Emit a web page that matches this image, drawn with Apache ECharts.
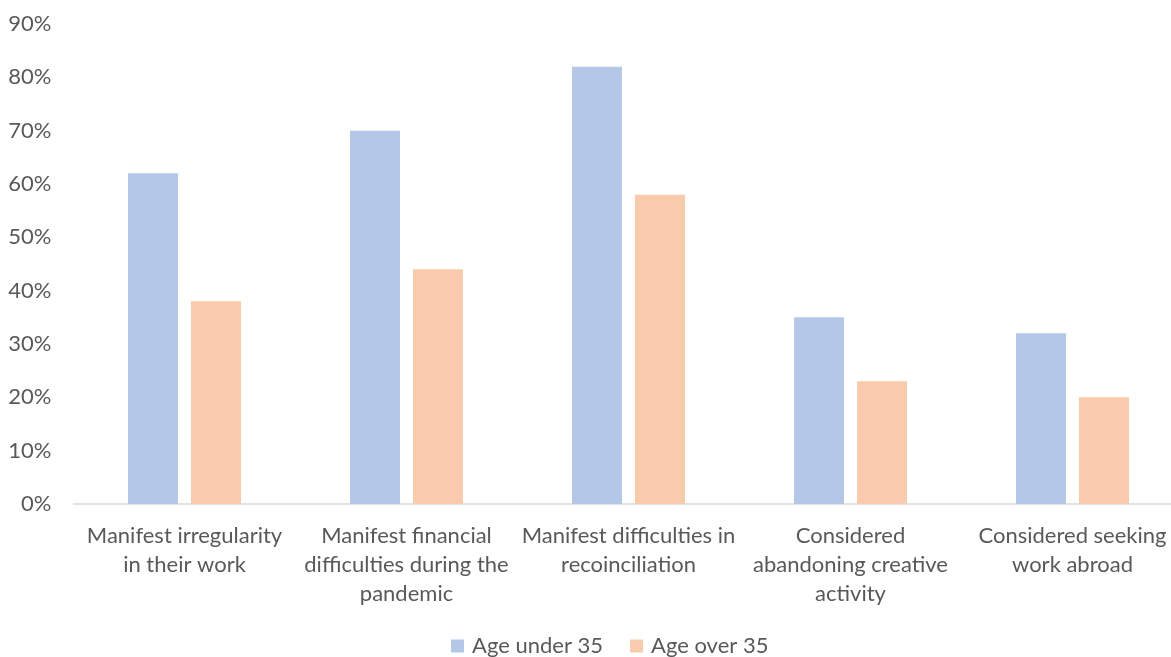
<!DOCTYPE html>
<html>
<head>
<meta charset="utf-8">
<script src="https://cdn.jsdelivr.net/npm/echarts@6/dist/echarts.min.js"></script>
<style>
html,body{margin:0;padding:0;background:#fff;}
#chart{width:1171px;height:657px;}
</style>
</head>
<body>
<div id="chart"></div>
<script>
const categories = [
  "Manifest irregularity\nin their work",
  "Manifest financial\ndifficulties during the\npandemic",
  "Manifest difficulties in\nrecoinciliation",
  "Considered\nabandoning creative\nactivity",
  "Considered seeking\nwork abroad"
];
const seriesNames = ["Age under 35", "Age over 35"];
const under35 = [62, 70, 82, 35, 32];
const over35 = [38, 44, 58, 23, 20];
const yTicks = { min: 0, max: 90, interval: 10 };

const FONT = "Lato, 'Open Sans', sans-serif";
const TEXT = "#595959";
const chart = echarts.init(document.getElementById('chart'));
chart.setOption({
  animation: false,
  textStyle: { fontFamily: FONT },
  grid: { left: 73.5, width: 1110, top: 24, bottom: 153, containLabel: false, outerBoundsMode: 'none' },
  legend: {
    bottom: -5,
    left: 446,
    itemWidth: 13,
    itemHeight: 13,
    itemGap: 27,
    icon: 'rect',
    textStyle: { fontFamily: FONT, fontSize: 22, color: TEXT, padding: [0, 0, 0, 3] },
    data: seriesNames
  },
  xAxis: {
    type: 'category',
    data: categories,
    axisLine: { lineStyle: { color: '#D9D9D9', width: 1.5 } },
    axisTick: { show: false },
    axisLabel: { color: TEXT, fontSize: 22, fontFamily: FONT, lineHeight: 29, margin: 17, interval: 0 }
  },
  yAxis: {
    type: 'value',
    min: yTicks.min, max: yTicks.max, interval: yTicks.interval,
    axisLine: { show: false },
    axisTick: { show: false },
    splitLine: { show: false },
    axisLabel: { color: TEXT, fontSize: 22, fontFamily: FONT, margin: 22, formatter: '{value}%' }
  },
  series: [
    { name: seriesNames[0], type: 'bar', data: under35, barWidth: 50, barGap: '26%', itemStyle: { color: '#B4C7E7' } },
    { name: seriesNames[1], type: 'bar', data: over35, barWidth: 50, barGap: '26%', itemStyle: { color: '#F8CBAD' } }
  ]
});
</script>
</body>
</html>
